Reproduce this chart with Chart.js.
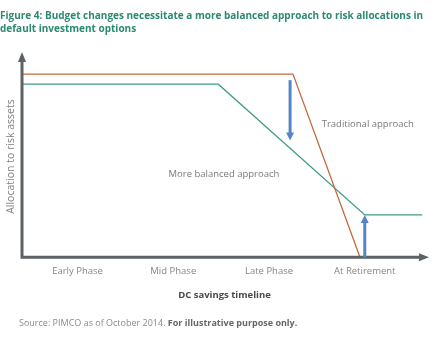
<!DOCTYPE html>
<html>
<head>
<meta charset="utf-8">
<script src="https://cdn.jsdelivr.net/npm/chart.js@4.4.0/dist/chart.umd.min.js"></script>
<style>
  body { margin: 0; background: #fff; }
  #wrap { position: relative; width: 434px; height: 350px; }
  #budget-chart { position: absolute; left: 0; top: 0; }
  .title { position: absolute; left: 0; top: 9px; white-space: nowrap; font: bold 10px "Open Sans", sans-serif; line-height: 13px; color: #2b8a72; }
  .source { position: absolute; left: 19px; top: 316px; font: 9px "Open Sans", sans-serif; color: #8a8a8a; }
  .source b { color: #666; }
</style>
</head>
<body>
<div id="wrap">
  <canvas id="budget-chart" width="434" height="350"></canvas>
  <div class="title">Figure 4: Budget changes necessitate a more balanced approach to risk allocations in<br>default investment options</div>
  <div class="source">Source: PIMCO as of October 2014. <b>For illustrative purpose only.</b></div>
</div>
<script>
// Budget changes chart

const phaseLabels = ['Early Phase', 'Mid Phase', 'Late Phase', 'At Retirement'];
const phaseTicks = [1, 2, 3, 4];

// timeline position / allocation to risk assets
const traditionalX = [0.42, 3.25, 3.95];
const traditionalY = [91, 91, 0];
const balancedX = [0.42, 2.47, 4.0, 4.6];
const balancedY = [86, 86, 21, 21];

// blue shift arrows: timeline position, from, to
const shiftX = [3.22, 4.0];
const shiftFrom = [88, 0];
const shiftTo = [58, 21];

const noteText = ['Traditional approach', 'More balanced approach'];
const noteX = [3.55, 1.95];
const noteY = [66, 41];

function toPoints(xs, ys) {
  return xs.map(function(x, i) { return { x: x, y: ys[i] }; });
}

const axisColor = '#5c6266';

const customDraw = {
  id: 'customDraw',
  afterDatasetsDraw: function(chart) {
    const ctx = chart.ctx;
    const x = chart.scales.x;
    const y = chart.scales.y;
    const left = chart.chartArea.left;
    const bottom = chart.chartArea.bottom;
    ctx.save();

    // axes with arrow heads
    ctx.strokeStyle = axisColor;
    ctx.fillStyle = axisColor;
    ctx.lineWidth = 3;
    ctx.beginPath();
    ctx.moveTo(left, bottom + 1.5);
    ctx.lineTo(left, chart.chartArea.top + 4);
    ctx.moveTo(left - 1.5, bottom);
    ctx.lineTo(chart.chartArea.right - 4, bottom);
    ctx.stroke();
    ctx.beginPath();
    ctx.moveTo(left, chart.chartArea.top - 4);
    ctx.lineTo(left - 4, chart.chartArea.top + 6);
    ctx.lineTo(left + 4, chart.chartArea.top + 6);
    ctx.closePath();
    ctx.fill();
    ctx.beginPath();
    ctx.moveTo(chart.chartArea.right + 2, bottom);
    ctx.lineTo(chart.chartArea.right - 8, bottom - 4);
    ctx.lineTo(chart.chartArea.right - 8, bottom + 4);
    ctx.closePath();
    ctx.fill();

    // shift arrows
    ctx.strokeStyle = '#5585c8';
    ctx.fillStyle = '#5585c8';
    ctx.lineWidth = 3;
    shiftX.forEach(function(sx, i) {
      const px = x.getPixelForValue(sx);
      const y0 = y.getPixelForValue(shiftFrom[i]);
      const y1 = y.getPixelForValue(shiftTo[i]);
      const dir = y1 > y0 ? 1 : -1;
      ctx.beginPath();
      ctx.moveTo(px, y0);
      ctx.lineTo(px, y1 - dir * 6);
      ctx.stroke();
      ctx.beginPath();
      ctx.moveTo(px, y1);
      ctx.lineTo(px - 4, y1 - dir * 8);
      ctx.lineTo(px + 4, y1 - dir * 8);
      ctx.closePath();
      ctx.fill();
    });

    // notes
    ctx.font = '9.5px "Open Sans", sans-serif';
    ctx.fillStyle = '#7a7a7a';
    ctx.textAlign = 'left';
    ctx.textBaseline = 'middle';
    noteText.forEach(function(t, i) {
      ctx.fillText(t, x.getPixelForValue(noteX[i]), y.getPixelForValue(noteY[i]));
    });

    // y axis title
    ctx.translate(11, (chart.chartArea.top + bottom) / 2);
    ctx.rotate(-Math.PI / 2);
    ctx.textAlign = 'center';
    ctx.font = '10.5px "Open Sans", sans-serif';
    ctx.fillStyle = '#808080';
    ctx.fillText('Allocation to risk assets', 0, 0);
    ctx.restore();
  }
};

const budgetCanvas = document.getElementById('budget-chart');
const budgetChart = new Chart(budgetCanvas, {
  type: 'line',
  data: {
    datasets: [{
      label: 'Traditional approach',
      data: toPoints(traditionalX, traditionalY),
      borderColor: '#c8693c',
      borderWidth: 1.3,
      pointRadius: 0
    }, {
      label: 'More balanced approach',
      data: toPoints(balancedX, balancedY),
      borderColor: '#3f9c86',
      borderWidth: 1.3,
      pointRadius: 0
    }]
  },
  options: {
    responsive: false,
    animation: false,
    layout: { padding: { left: 22, right: 7, top: 56, bottom: 49 } },
    plugins: {
      legend: { display: false },
      tooltip: { enabled: false }
    },
    scales: {
      x: {
        type: 'linear',
        min: 0.42,
        max: 4.65,
        grid: { display: false },
        border: { display: false },
        afterBuildTicks: function(axis) {
          axis.ticks = phaseTicks.map(function(v) { return { value: v }; });
        },
        ticks: {
          padding: 0,
          color: '#858585',
          font: { family: 'Open Sans', size: 9.5 },
          callback: function(value) {
            return phaseLabels[phaseTicks.indexOf(value)];
          }
        },
        title: {
          display: true,
          text: 'DC savings timeline',
          color: '#4a4a4a',
          font: { family: 'Open Sans', size: 9.5, weight: 'bold' },
          padding: { top: 13, bottom: 0 }
        }
      },
      y: {
        display: false,
        min: 0,
        max: 100
      }
    }
  },
  plugins: [customDraw]
});
</script>
</body>
</html>
